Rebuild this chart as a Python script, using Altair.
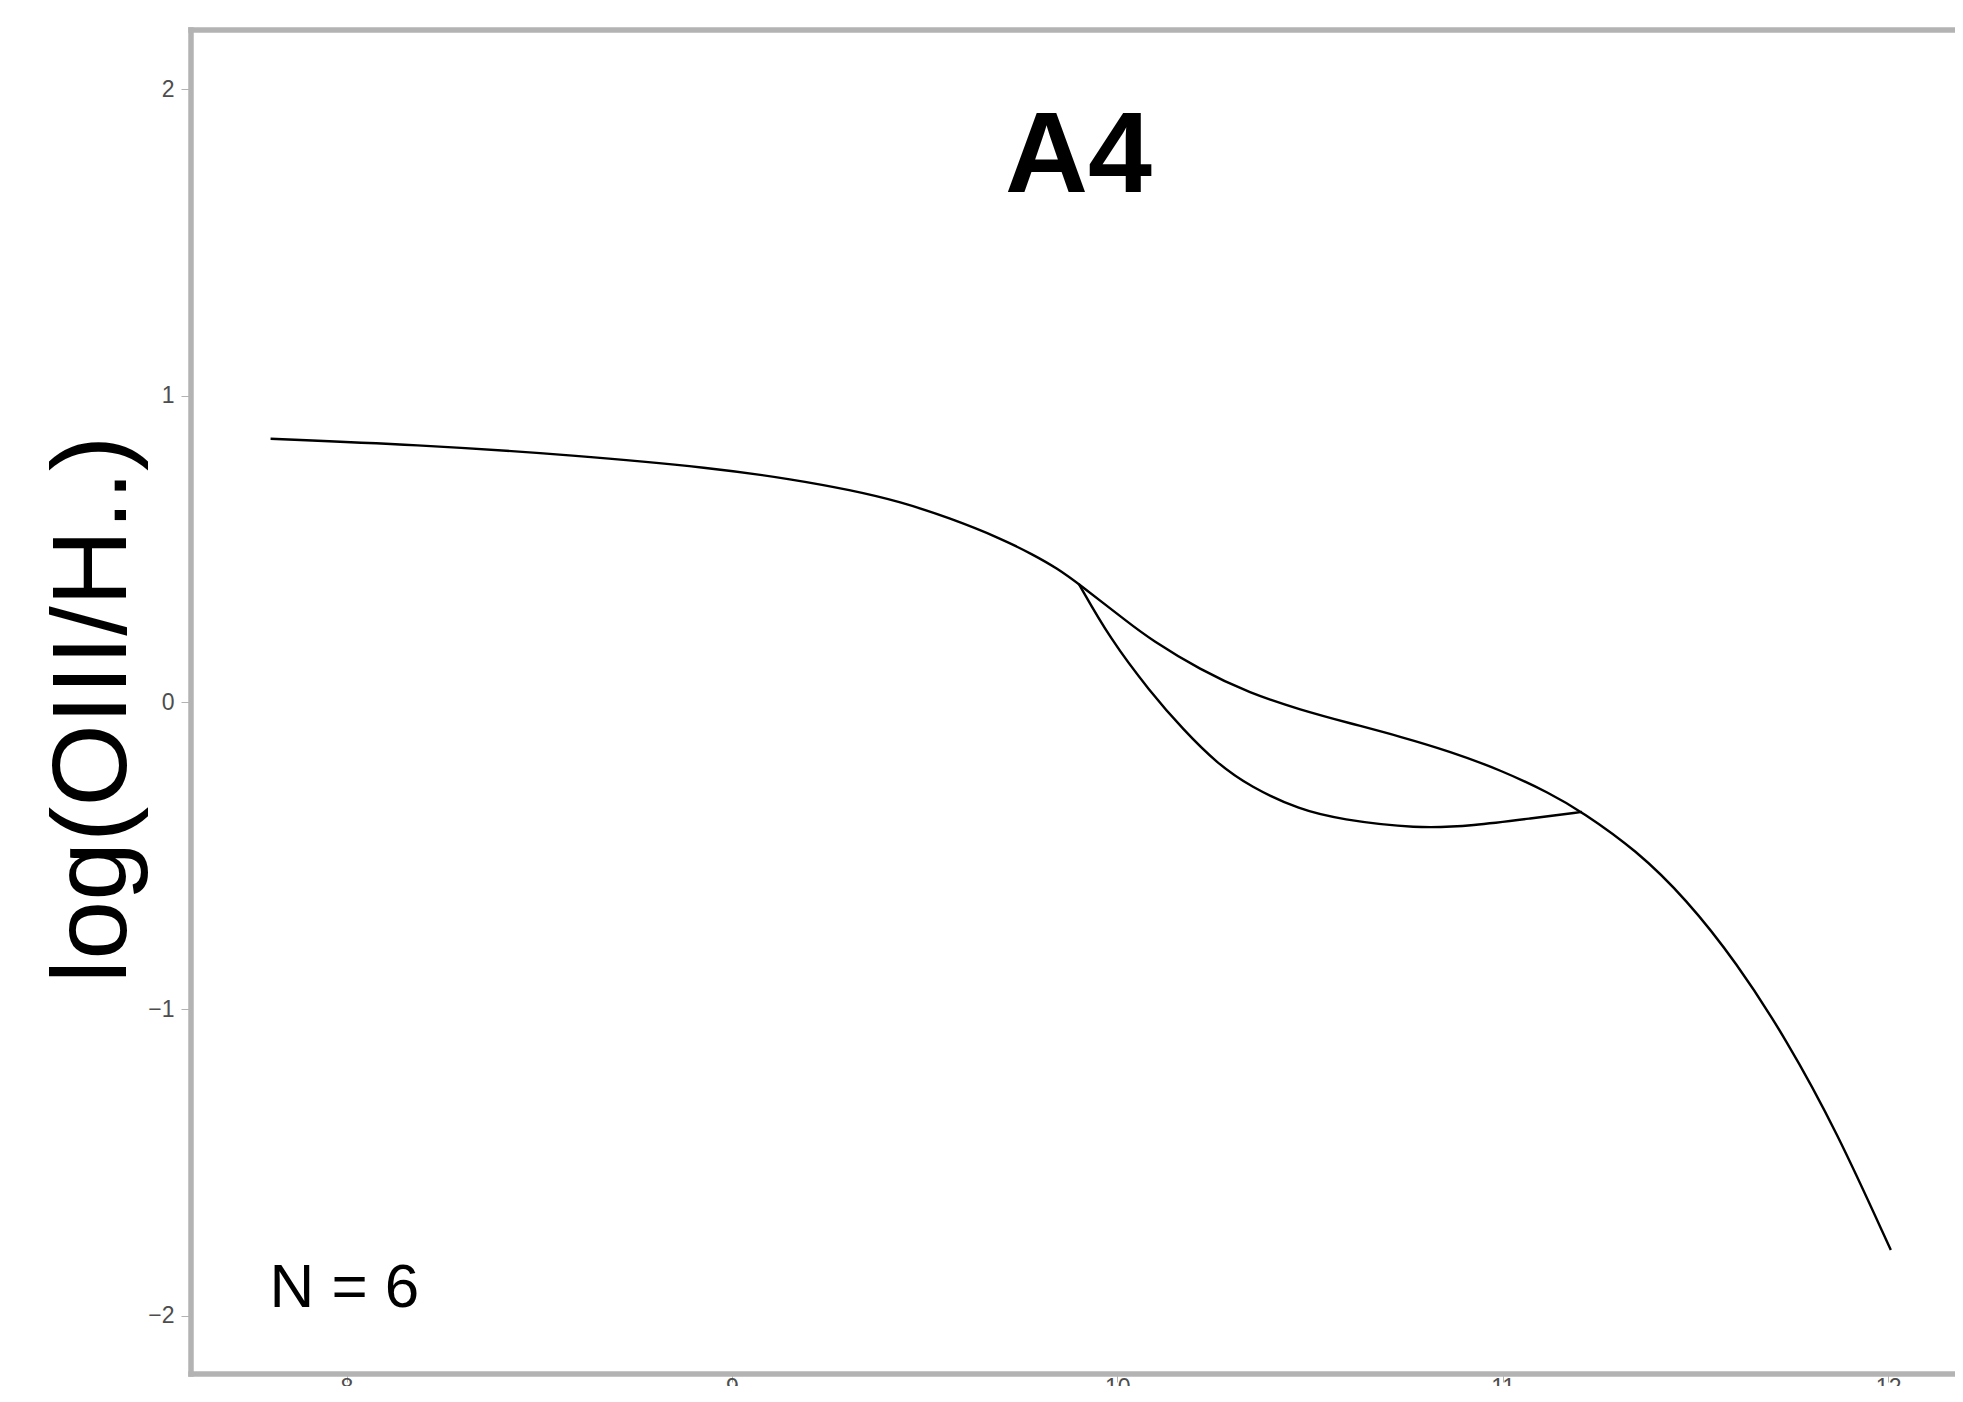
import altair as alt
import pandas as pd

# Main curve (continuous)
main_x = [7.803, 8.176, 8.598, 8.950, 9.161, 9.307, 9.437, 9.566, 9.696, 9.783, 9.843, 9.900,
          10.030, 10.085, 10.215, 10.344, 10.475, 10.604, 10.734, 10.864, 10.994, 11.123, 11.206,
          11.346, 11.476, 11.606, 11.736, 11.866, 12.007]
main_y = [0.860, 0.841, 0.806, 0.765, 0.727, 0.693, 0.655, 0.601, 0.536, 0.481, 0.438, 0.387,
          0.259, 0.207, 0.106, 0.030, -0.024, -0.068, -0.111, -0.160, -0.220, -0.296, -0.357,
          -0.481, -0.641, -0.847, -1.099, -1.397, -1.786]

# Lower branch between the two junctions
branch_x = [9.900, 9.980, 10.085, 10.172, 10.258, 10.345, 10.475, 10.578, 10.776, 10.925, 11.074, 11.206]
branch_y = [0.387, 0.210, 0.035, -0.090, -0.198, -0.275, -0.351, -0.381, -0.412, -0.402, -0.378, -0.357]

x_ticks = [8, 9, 10, 11, 12]
y_ticks = [-2, -1, 0, 1, 2]
x_domain = [7.5965, 12.1735]
y_domain = [-2.19, 2.193]

panel_title = ["A4"]
note_x = [7.8]
note_y = [-1.973]
note_text = ["N = 6"]
y_title = "log(OIII/H..)"

df = pd.DataFrame({
    "x": main_x + branch_x,
    "y": main_y + branch_y,
    "curve": ["main"] * len(main_x) + ["branch"] * len(branch_x),
})
notes = pd.DataFrame({"x": note_x, "y": note_y, "t": note_text})
titles = pd.DataFrame({"t": panel_title})

W, H = 1764, 1344
FONT = "Liberation Sans"
BORDER = "#b3b3b3"

xs = alt.Scale(domain=x_domain, nice=False, zero=False)
ys = alt.Scale(domain=y_domain, nice=False, zero=False)

lines = alt.Chart(df).mark_line(
    color="black", strokeWidth=2.4, interpolate="basis", clip=True
).encode(
    x=alt.X("x:Q", scale=xs, axis=alt.Axis(
        values=x_ticks, format="d", title="", domain=False, grid=False,
        tickColor=BORDER, tickWidth=1, tickSize=8,
        labelFontSize=23, labelColor="#4d4d4d", labelFont=FONT, labelPadding=-6)),
    y=alt.Y("y:Q", scale=ys, axis=alt.Axis(
        values=y_ticks, format="d", title=y_title, domain=False, grid=False,
        tickColor=BORDER, tickWidth=1, tickSize=10,
        labelFontSize=23, labelColor="#4d4d4d", labelFont=FONT, labelPadding=7,
        titleFontSize=106, titleFont=FONT, titleFontWeight="normal", titleColor="black",
        titleAngle=270, titleX=-66, titleY=679, titleAlign="center",
        titleBaseline="alphabetic")),
    detail="curve:N",
)

note = alt.Chart(notes).mark_text(
    fontSize=62, font=FONT, color="black", align="left", baseline="alphabetic"
).encode(
    x=alt.X("x:Q", scale=xs),
    y=alt.Y("y:Q", scale=ys),
    text="t:N",
)

title = alt.Chart(titles).mark_text(
    fontSize=115, font=FONT, fontWeight="bold", color="black",
    align="center", baseline="alphabetic"
).encode(
    x=alt.value(887.5),
    y=alt.value(161.5),
    text="t:N",
)

# panel frame: left, top and bottom edges (the right edge lies beyond the page)
left_edge = alt.Chart(titles).mark_rule(color=BORDER, strokeWidth=5.5).encode(
    x=alt.value(0), y=alt.value(-2.75), y2=alt.value(H + 2.75))
top_edge = alt.Chart(titles).mark_rule(color=BORDER, strokeWidth=5.5).encode(
    x=alt.value(-2.75), x2=alt.value(W + 10), y=alt.value(0))
bottom_edge = alt.Chart(titles).mark_rule(color=BORDER, strokeWidth=5.5).encode(
    x=alt.value(-2.75), x2=alt.value(W + 10), y=alt.value(H))

chart = alt.layer(lines, note, title, left_edge, top_edge, bottom_edge).properties(
    width=W, height=H,
    autosize=alt.AutoSizeParams(type="none"),
    padding={"left": 183, "top": 22, "right": 0, "bottom": 12},
    background="white",
).configure_view(strokeWidth=0)

chart.save("out.html", embed_options={"renderer": "svg", "actions": False})
